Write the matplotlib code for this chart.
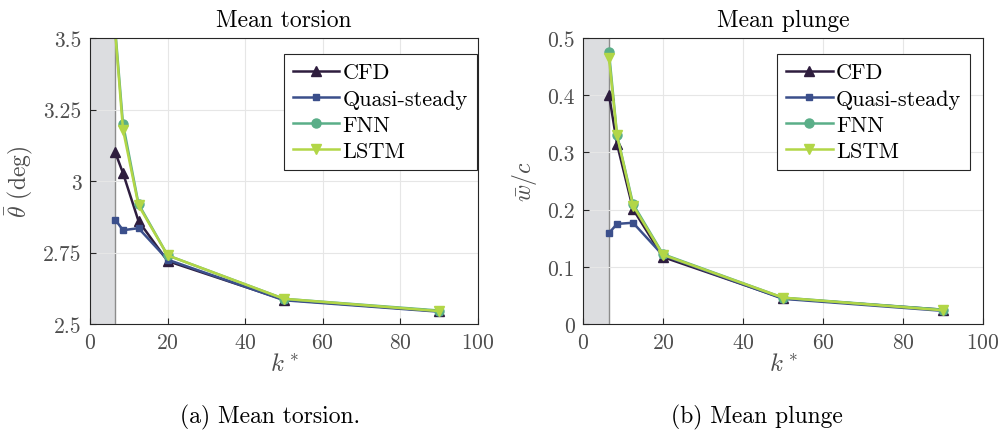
import matplotlib
matplotlib.use("Agg")
import matplotlib.pyplot as plt

# reduced frequency values
k_vals = [6.5, 8.5, 12.5, 20, 50, 90]
k_limit = 6.4

# mean torsion (deg)
theta_cfd = [3.10, 3.028, 2.86, 2.72, 2.585, 2.545]
theta_qs = [2.865, 2.828, 2.835, 2.725, 2.583, 2.543]
theta_fnn = [3.53, 3.20, 2.92, 2.74, 2.588, 2.547]
theta_lstm = [3.52, 3.18, 2.915, 2.74, 2.588, 2.545]

# mean plunge w/c
plunge_cfd = [0.401, 0.315, 0.201, 0.117, 0.045, 0.025]
plunge_qs = [0.159, 0.175, 0.177, 0.120, 0.044, 0.023]
plunge_fnn = [0.475, 0.331, 0.210, 0.122, 0.046, 0.025]
plunge_lstm = [0.465, 0.330, 0.207, 0.121, 0.046, 0.024]

labels = ["CFD", "Quasi-steady", "FNN", "LSTM"]
colors = ["#2e1d3e", "#3b4f8b", "#5aae88", "#b2d647"]
markers = ["^", "s", "o", "v"]
msizes = [7.5, 5, 6.5, 7.5]

plt.rcParams["font.family"] = "serif"
plt.rcParams["font.serif"] = ["cmr10"]
plt.rcParams["mathtext.fontset"] = "cm"
plt.rcParams["axes.formatter.use_mathtext"] = True

fig = plt.figure(figsize=(10.02, 4.39), dpi=100)
W, H = 1002, 439
ax1 = fig.add_axes([90 / W, 114 / H, 388 / W, 286 / H])
ax2 = fig.add_axes([583 / W, 114 / H, 400 / W, 286 / H])


def style_panel(ax, series, title, ylabel, ylim, yticks, yticklabels, leg_anchor):
    ax.axvspan(0, k_limit, facecolor="#dcdde0", edgecolor="none", zorder=0)
    ax.axvline(k_limit, color="#8c8c8c", lw=1.0, zorder=0.5)
    for vals, lab, c, m, s in zip(series, labels, colors, markers, msizes):
        ax.plot(k_vals, vals, color=c, marker=m, lw=1.8, ms=s,
                label=lab, zorder=3)
    ax.set_xlim(0, 100)
    ax.set_ylim(*ylim)
    ax.set_xticks([0, 20, 40, 60, 80, 100])
    ax.set_yticks(yticks)
    ax.set_yticklabels(yticklabels)
    ax.grid(True, color="#e6e6e6", lw=0.8, zorder=0.2)
    ax.set_axisbelow(False)
    ax.tick_params(direction="in", length=4, colors="#262626",
                   labelcolor="#4d4d4d", labelsize=15.5, pad=6)
    for sp in ax.spines.values():
        sp.set_color("#262626")
        sp.set_linewidth(0.8)
        sp.set_zorder(4)
    ax.set_title(title, fontsize=17, pad=8.5)
    ax.set_xlabel(r"$k^*$", fontsize=18, color="#4d4d4d", labelpad=1)
    ax.set_ylabel(ylabel, fontsize=17, color="#4d4d4d", labelpad=6)
    leg = ax.legend(loc="upper right", bbox_to_anchor=leg_anchor, fontsize=16,
                    frameon=True, fancybox=False, edgecolor="#262626",
                    framealpha=1, borderaxespad=0, handlelength=2.1,
                    handletextpad=0.15, borderpad=0.4, labelspacing=0.3)
    leg.get_frame().set_linewidth(0.8)


style_panel(ax1, [theta_cfd, theta_qs, theta_fnn, theta_lstm],
            "Mean torsion", r"$\bar{\theta}$ (deg)", (2.5, 3.5),
            [2.5, 2.75, 3, 3.25, 3.5], ["2.5", "2.75", "3", "3.25", "3.5"],
            (0.997, 0.944))
style_panel(ax2, [plunge_cfd, plunge_qs, plunge_fnn, plunge_lstm],
            "Mean plunge", r"$\bar{w}/c$", (0, 0.5),
            [0, 0.1, 0.2, 0.3, 0.4, 0.5], ["0", "0.1", "0.2", "0.3", "0.4", "0.5"],
            (0.9675, 0.944))

fig.text(270 / W, 1 - 417 / H, "(a) Mean torsion.", ha="center", va="center", fontsize=17)
fig.text(757 / W, 1 - 417 / H, "(b) Mean plunge", ha="center", va="center", fontsize=17)

fig.savefig("out.png", dpi=100)
